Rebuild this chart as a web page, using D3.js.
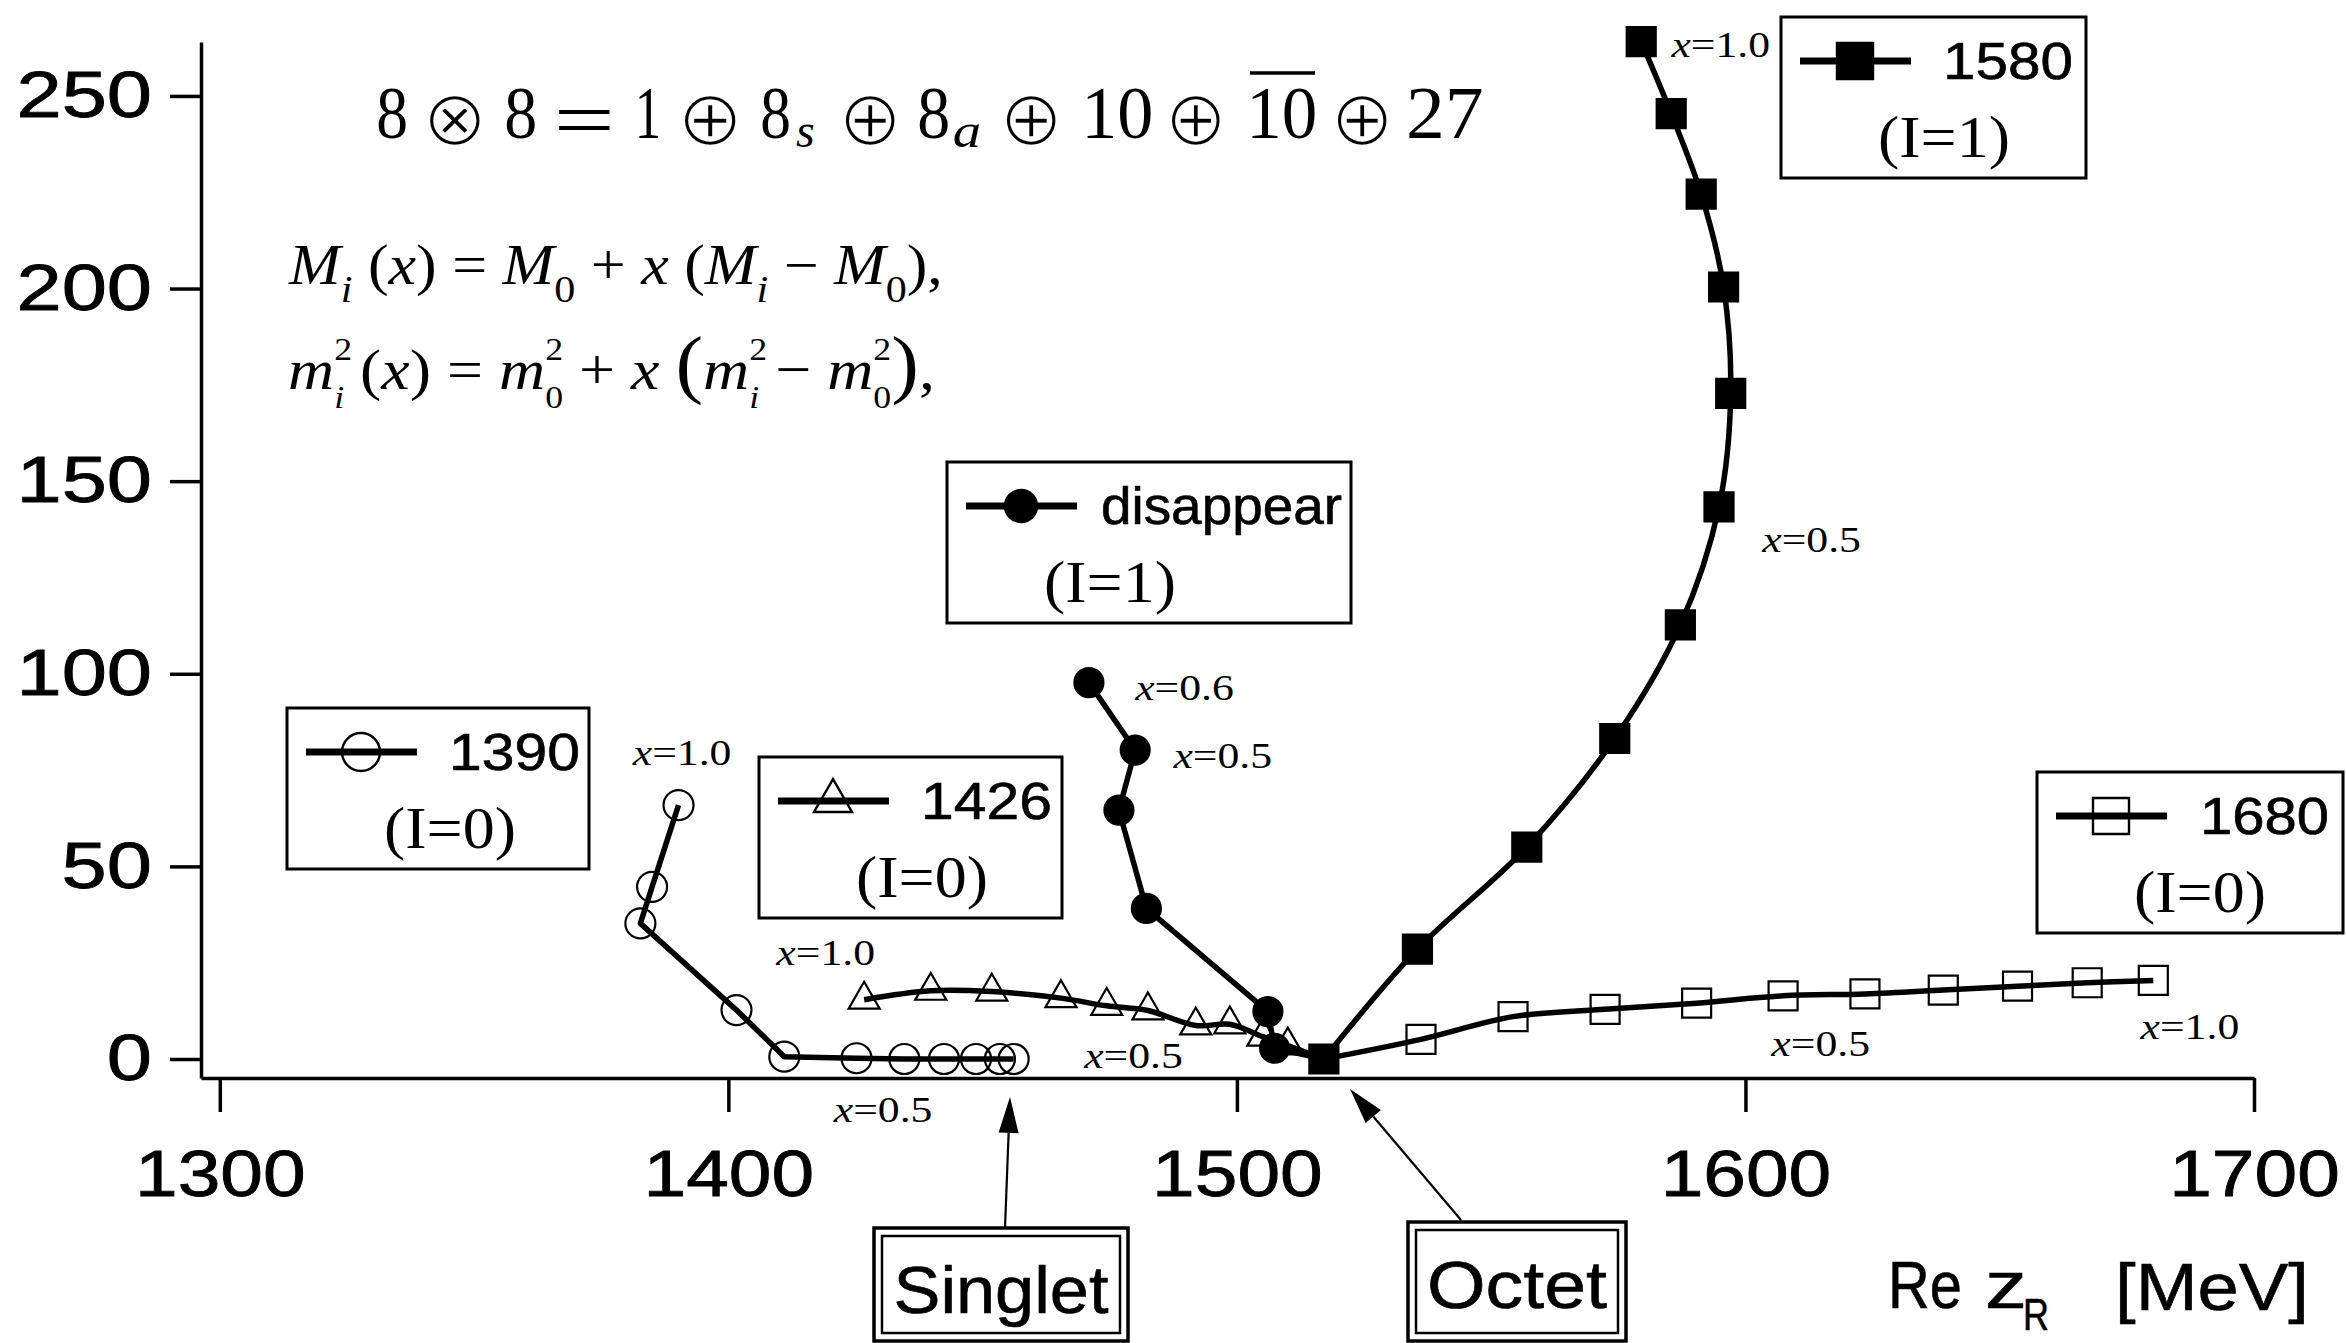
<!DOCTYPE html>
<html>
<head>
<meta charset="utf-8">
<title>Pole trajectories</title>
<script src="https://cdn.jsdelivr.net/npm/d3@7"></script>
<style>
  body { margin: 0; background: #fff; }
  svg { display: block; }
  text { white-space: pre; }
</style>
</head>
<body>
<div id="chart"></div>
<script>
// pole positions z_R, x = 0.0, 0.1, ... 1.0
var re1390 = [1456.1, 1453.4, 1448.7, 1442.4, 1434.6, 1425.2, 1411.0, 1401.6, 1382.7, 1385.0, 1390.2];
var im1390 = [0, 0, 0, 0, 0, 0.2, 0.6, 12.7, 35.2, 44.7, 65.9];

var re1426 = [1517.1, 1510.0, 1505.1, 1498.6, 1491.9, 1482.5, 1474.4, 1465.4, 1451.8, 1439.8, 1426.7];
var im1426 = [0, 3.5, 5.8, 9.0, 8.7, 12.6, 13.8, 15.8, 17.5, 17.7, 15.4];

// x = 0.0 ... 0.6, then the pole disappears
var reDis = [1517.1, 1507.4, 1506.1, 1482.2, 1476.8, 1480.0, 1470.9];
var imDis = [0, 2.8, 12.3, 39.1, 64.6, 80.2, 97.7];

var re1580 = [1517.1, 1535.5, 1557.0, 1574.3, 1587.2, 1594.8, 1597.1, 1595.7, 1591.3, 1585.4, 1579.5];
var im1580 = [0, 28.5, 55.0, 83.2, 112.7, 143.3, 172.8, 200.4, 224.5, 245.4, 264.1];

var re1680 = [1517.1, 1536.2, 1554.3, 1572.4, 1590.4, 1607.4, 1623.5, 1638.9, 1653.5, 1667.2, 1680.2];
var im1680 = [0, 5.1, 11.0, 12.9, 14.5, 16.4, 16.9, 17.9, 18.9, 19.8, 20.4];

var names = ["1390", "1426", "disappear", "1580", "1680"];
var isospin = ["(I=0)", "(I=0)", "(I=1)", "(I=1)", "(I=0)"];

var xTicks = [1300, 1400, 1500, 1600, 1700];
var yTicks = [0, 50, 100, 150, 200, 250];

var W = 2346, H = 1343;
var sans = "'Liberation Sans', Arial, Helvetica, sans-serif";
var serif = "'Liberation Serif', 'Times New Roman', Times, serif";

var svg = d3.select("#chart").append("svg")
    .attr("width", W)
    .attr("height", H);
svg.append("rect").attr("width", W).attr("height", H).attr("fill", "#fff");

var x = d3.scaleLinear().domain([1296.3, 1700]).range([201, 2254]);
var y = d3.scaleLinear().domain([-4.93, 264]).range([1078, 42]);

// stretch a text horizontally so that its box starts at left and is width wide
function fitX(sel, left, width) {
    sel.each(function() {
        var b = this.getBBox();
        var k = width / b.width;
        d3.select(this).attr("transform", "translate(" + (left - b.x * k) + ",0) scale(" + k + ",1)");
    });
}

// ink box of a string, measured on a canvas
var ctx = document.createElement("canvas").getContext("2d");
function inkOf(txt, font) {
    ctx.font = font;
    var m = ctx.measureText(txt);
    return {x0: -m.actualBoundingBoxLeft, x1: m.actualBoundingBoxRight,
            y0: -m.actualBoundingBoxAscent, y1: m.actualBoundingBoxDescent};
}
// put a glyph run so that its ink fills [x0,x1] (and [y0,y1] if given, else sits on base)
function placeInk(txt, family, size, fstyle, box) {
    var m = inkOf(txt, fstyle + " " + size + "px " + family);
    var kx = (box.x1 - box.x0) / (m.x1 - m.x0);
    var ky = box.y0 != null ? (box.y1 - box.y0) / (m.y1 - m.y0) : 1;
    var tx = box.x0 - m.x0 * kx;
    var ty = box.y0 != null ? box.y0 - m.y0 * ky : box.base;
    return svg.append("text")
        .attr("transform", "translate(" + tx + "," + ty + ") scale(" + kx + "," + ky + ")")
        .style("font-family", family)
        .style("font-size", size + "px")
        .style("font-style", fstyle)
        .text(txt);
}

// axes
var yAxis = svg.append("g")
    .attr("transform", "translate(201,0)")
    .call(d3.axisLeft(y).tickValues(yTicks).tickSize(31).tickSizeOuter(0).tickPadding(18));
var xAxis = svg.append("g")
    .attr("transform", "translate(0,1078)")
    .call(d3.axisBottom(x).tickValues(xTicks).tickFormat(d3.format("d"))
        .tickSize(34).tickSizeOuter(0).tickPadding(38));
[yAxis, xAxis].forEach(function(a, i) {
    a.selectAll("path, line").attr("stroke", "#000").attr("stroke-width", 3.5);
    a.selectAll("text")
        .style("font-family", sans)
        .style("font-size", "65px")
        .attr("fill", "#000")
        .attr("stroke", "#000")
        .attr("stroke-width", 0.8)
        .attr("lengthAdjust", "spacingAndGlyphs")
        .attr("textLength", function() { return this.getComputedTextLength() * (i == 0 ? 1.25 : 1.18); });
});

// series
var series = [
    {re: re1390, im: im1390, sym: d3.symbolCircle, size: 707, fill: "none", legSize: 1134, curve: d3.curveLinear, from: 0},
    {re: re1426, im: im1426, sym: d3.symbolTriangle, size: 416, fill: "none", legSize: 625, curve: d3.curveCatmullRom, from: 1},
    {re: reDis, im: imDis, sym: d3.symbolCircle, size: 660, fill: "#000", legSize: 804, curve: d3.curveLinear, from: 1},
    {re: re1580, im: im1580, sym: d3.symbolSquare, size: 841, fill: "#000", legSize: 1296, curve: d3.curveCatmullRom, from: 0},
    {re: re1680, im: im1680, sym: d3.symbolSquare, size: 841, fill: "none", legSize: 1296, curve: d3.curveCatmullRom, from: 1}
];
series.forEach(function(s, i) { s.name = names[i]; s.iso = isospin[i]; s.pts = d3.zip(s.re, s.im); });

var drawOrder = [0, 1, 2, 4, 3];

drawOrder.forEach(function(i) {
    var s = series[i];
    svg.append("path")
        .datum(s.pts)
        .attr("fill", "none")
        .attr("stroke", "#000")
        .attr("stroke-width", 5.5)
        .attr("stroke-linejoin", "round")
        .attr("d", d3.line().curve(s.curve)
            .x(function(d) { return x(d[0]); })
            .y(function(d) { return y(d[1]); }));
});

drawOrder.forEach(function(i) {
    var s = series[i];
    svg.append("g").selectAll("path")
        .data(s.pts.slice(s.from))
        .join("path")
        .attr("transform", function(d) { return "translate(" + x(d[0]) + "," + y(d[1]) + ")"; })
        .attr("d", d3.symbol().type(s.sym).size(s.size))
        .attr("fill", s.fill)
        .attr("stroke", "#000")
        .attr("stroke-width", 2.2);
});

// "x=..." labels next to points: [series, point, value, dx, dy]
var notes = [
    [0, 10, "1.0", -47, -40], [0, 5, "0.5", -24, 64],
    [1, 10, "1.0", -89, -35], [1, 5, "0.5", -65, 58],
    [2, 6, "0.6", 45, 17], [2, 5, "0.5", 37, 18],
    [3, 10, "1.0", 29, 15], [3, 5, "0.5", 42, 45],
    [4, 5, "0.5", -13, 60], [4, 10, "1.0", -14, 59]
];
notes.forEach(function(n) {
    var p = series[n[0]].pts[n[1]];
    var t = svg.append("text")
        .attr("y", y(p[1]) + n[4])
        .style("font-family", serif)
        .style("font-size", "36px");
    t.append("tspan").style("font-style", "italic").text("x");
    t.append("tspan").text("=" + n[2]);
    fitX(t, x(p[0]) + n[3], 100);
});

// legends: box left, top, width, label offset
var legendBox = [[287, 708, 302, 162], [759, 757, 303, 162], [947, 462, 404, 154], [1781, 17, 305, 162], [2037, 772, 306, 163]];
var legendWidth = [131, 131, 241, 130, 129];
series.forEach(function(s, i) {
    var b = legendBox[i];
    var g = svg.append("g").attr("transform", "translate(" + b[0] + "," + b[1] + ")");
    g.append("rect")
        .attr("width", b[2]).attr("height", 161)
        .attr("fill", "#fff").attr("stroke", "#000").attr("stroke-width", 3);
    g.append("line")
        .attr("x1", 19).attr("x2", 130).attr("y1", 44).attr("y2", 44)
        .attr("stroke", "#000").attr("stroke-width", 7);
    g.append("path")
        .attr("transform", "translate(74,44)")
        .attr("d", d3.symbol().type(s.sym).size(s.legSize))
        .attr("fill", s.fill).attr("stroke", "#000").attr("stroke-width", 2.4);
    var t1 = g.append("text").attr("y", 62)
        .attr("stroke", "#000").attr("stroke-width", 0.6)
        .style("font-family", sans).style("font-size", "52px").text(s.name);
    fitX(t1, b[3], legendWidth[i]);
    var t2 = g.append("text").attr("y", 140)
        .style("font-family", serif).style("font-size", "60px").text(s.iso);
    fitX(t2, 163 - 66, 132);
});

// Singlet / Octet boxes with arrows
function arrow(x1, y1, x2, y2) {
    var dx = x2 - x1, dy = y2 - y1, L = Math.sqrt(dx * dx + dy * dy);
    var ux = dx / L, uy = dy / L, hl = 36, hw = 10;
    var bx = x2 - ux * hl, by = y2 - uy * hl;
    svg.append("line").attr("x1", x1).attr("y1", y1).attr("x2", bx).attr("y2", by)
        .attr("stroke", "#000").attr("stroke-width", 2.2);
    svg.append("path")
        .attr("d", "M" + x2 + "," + y2 + "L" + (bx - uy * hw) + "," + (by + ux * hw) +
            "L" + (bx + uy * hw) + "," + (by - ux * hw) + "Z")
        .attr("fill", "#000");
}
function dblBox(x0, y0, w, h, label, base, tl) {
    svg.append("rect").attr("x", x0).attr("y", y0).attr("width", w).attr("height", h)
        .attr("fill", "#fff").attr("stroke", "#000").attr("stroke-width", 3.5);
    svg.append("rect").attr("x", x0 + 8).attr("y", y0 + 8).attr("width", w - 16).attr("height", h - 16)
        .attr("fill", "none").attr("stroke", "#000").attr("stroke-width", 2.5);
    var t = svg.append("text").attr("y", base)
        .attr("stroke", "#000").attr("stroke-width", 0.6)
        .style("font-family", sans).style("font-size", "66px").text(label);
    fitX(t, x0 + (w - tl) / 2, tl);
}
arrow(1005, 1228, 1010, 1097);
arrow(1461, 1220, 1350, 1089);
dblBox(874, 1228, 254, 113, "Singlet", 1313, 215);
dblBox(1408, 1222, 218, 119, "Octet", 1308, 180);

// axis title
function word(txt, left, width, base, size) {
    var t = svg.append("text").attr("y", base)
        .attr("stroke", "#000").attr("stroke-width", 0.6)
        .style("font-family", sans).style("font-size", size + "px").text(txt);
    fitX(t, left, width);
}
word("Re", 1888, 74, 1308, 66);
word("z", 1985, 42, 1308, 66);
word("R", 2023, 26, 1330, 44);
word("[MeV]", 2115, 194, 1310, 66);

// 8 x 8 decomposition: [text, ink left, ink right, kind]
var f1parts = [
    ["8", 378, 406, "n"], ["\u2297", 428, 481, "op"], ["8", 506, 535, "n"], ["=", 558, 610, "eq"],
    ["1", 639, 658, "n"], ["\u2295", 683, 737, "op"], ["8", 762, 789, "n"], ["s", 796, 814, "sub"],
    ["\u2295", 844, 896, "op"], ["8", 919, 948, "n"], ["a", 954, 980, "sub"], ["\u2295", 1005, 1057, "op"],
    ["10", 1087, 1151, "n"], ["\u2295", 1170, 1221, "op"], ["10", 1252, 1315, "bar"],
    ["\u2295", 1336, 1388, "op"], ["27", 1409, 1482, "n"]
];
f1parts.forEach(function(p) {
    var box = {x0: p[1], x1: p[2], base: 138};
    if (p[3] == "op") {
        box.y0 = 94; box.y1 = 146;
        // thin the glyph's strokes with a white outline
        placeInk(p[0], "'DejaVu Sans'", 60, "normal", box)
            .attr("stroke", "#fff").attr("stroke-width", 2);
    } else if (p[3] == "eq") {
        box.y0 = 110; box.y1 = 130;
        placeInk(p[0], serif, 75, "normal", box);
    } else if (p[3] == "sub") {
        box.base = 147;
        placeInk(p[0], serif, 48, "italic", box);
    } else {
        placeInk(p[0], serif, 75, "normal", box);
    }
    if (p[3] == "bar") {
        svg.append("line").attr("x1", p[1] - 2).attr("x2", p[2]).attr("y1", 73).attr("y2", 73)
            .attr("stroke", "#000").attr("stroke-width", 3.5);
    }
});

function mathText(parts, base, size, ss) {
    var t = svg.append("text").attr("y", base)
        .style("font-family", serif).style("font-size", size + "px");
    var shift = 0;
    parts.forEach(function(p) {
        var o = p[1] || {};
        var target = o.sub ? size * 0.32 : o.sup ? -size * 0.5 : 0;
        var ts = t.append("tspan").text(p[0]).attr("dy", target - shift);
        shift = target;
        if (o.sub || o.sup) ts.style("font-size", (size * ss) + "px");
        if (o.big) ts.style("font-size", (size * 1.3) + "px");
        if (o.it) ts.style("font-style", "italic");
        if (o.dx) ts.attr("dx", o.dx);
    });
    return t;
}
var f2 = mathText([
    ["M", {it: 1}], ["i", {sub: 1, it: 1}], [" ("], ["x", {it: 1}], [") = "],
    ["M", {it: 1}], ["0", {sub: 1}], [" + "], ["x", {it: 1}], [" ("],
    ["M", {it: 1}], ["i", {sub: 1, it: 1}], [" \u2212 "], ["M", {it: 1}], ["0", {sub: 1}], ["),"]
], 284, 56, 0.68);
fitX(f2, 288, 655);
var ss3 = 0.56;
var back = -58 * ss3 * 0.5;
var f3 = mathText([
    ["m", {it: 1}], ["2", {sup: 1}], ["i", {sub: 1, it: 1, dx: back}], [" ("], ["x", {it: 1}], [") = "],
    ["m", {it: 1}], ["2", {sup: 1}], ["0", {sub: 1, dx: back}], [" + "], ["x", {it: 1}], [" "], ["(", {big: 1}],
    ["m", {it: 1}], ["2", {sup: 1}], ["i", {sub: 1, it: 1, dx: back}], [" \u2212 "],
    ["m", {it: 1}], ["2", {sup: 1}], ["0", {sub: 1, dx: back}], [")", {big: 1}], [","]
], 389, 58, ss3);
fitX(f3, 288, 647);
</script>
</body>
</html>
